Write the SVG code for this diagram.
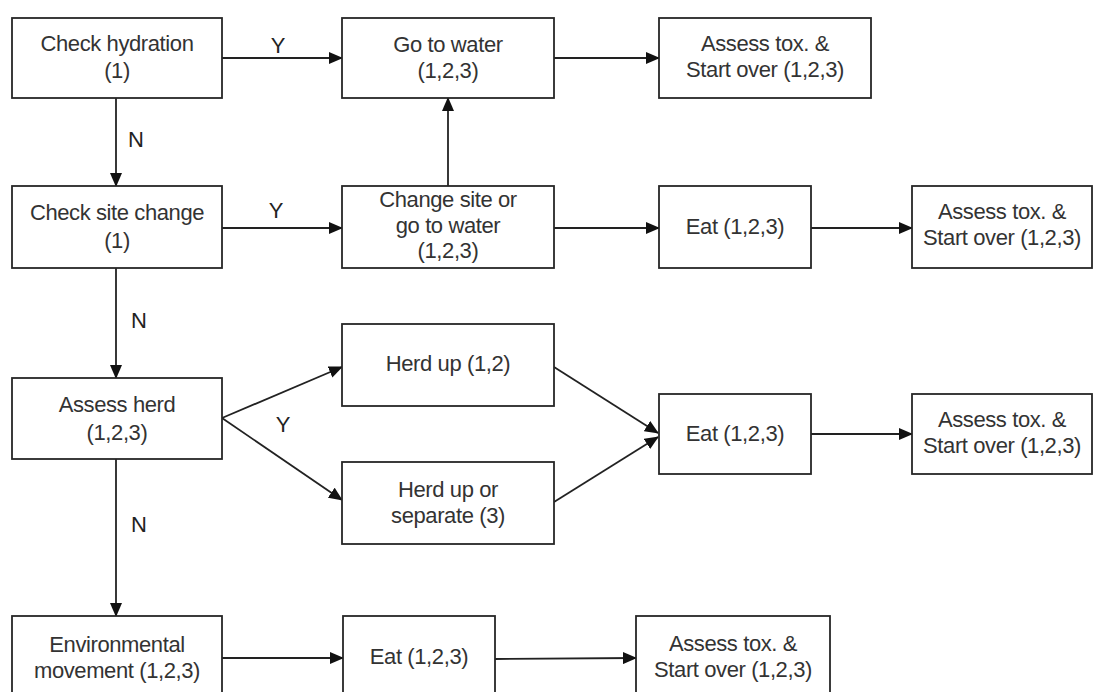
<svg xmlns="http://www.w3.org/2000/svg" width="1094" height="692" viewBox="0 0 1094 692">
  <style>
    .box { fill: #ffffff; stroke: #262626; stroke-width: 1.8; }
    .t { font-family: "Liberation Sans", Arial, sans-serif; font-size: 22px; fill: #333333; text-anchor: middle; letter-spacing: -0.4px; }
    .lbl { font-family: "Liberation Sans", Arial, sans-serif; font-size: 22px; fill: #222222; text-anchor: middle; }
    .c { fill: none; stroke: #222222; stroke-width: 1.8; marker-end: url(#ah); }
  </style>
  <defs>
    <marker id="ah" markerUnits="userSpaceOnUse" markerWidth="14" markerHeight="12" refX="13" refY="6" orient="auto">
      <path d="M0,0 L14,6 L0,12 z" fill="#111111"/>
    </marker>
  </defs>
  <rect x="0" y="0" width="1094" height="692" fill="#ffffff"/>

  <g id="connectors">
    <line class="c" x1="222" y1="58" x2="342" y2="58"/>
    <line class="c" x1="554" y1="58" x2="659" y2="58"/>
    <line class="c" x1="116" y1="98" x2="116" y2="186"/>
    <line class="c" x1="222" y1="228" x2="342" y2="228"/>
    <line class="c" x1="448" y1="186" x2="448" y2="98"/>
    <line class="c" x1="554" y1="228" x2="659" y2="228"/>
    <line class="c" x1="811" y1="228" x2="912" y2="228"/>
    <line class="c" x1="116" y1="268" x2="116" y2="378"/>
    <line class="c" x1="222" y1="418" x2="342" y2="367"/>
    <line class="c" x1="222" y1="418" x2="342" y2="500"/>
    <line class="c" x1="554" y1="367" x2="658" y2="433"/>
    <line class="c" x1="554" y1="502" x2="658" y2="437"/>
    <line class="c" x1="811" y1="434" x2="912" y2="434"/>
    <line class="c" x1="116" y1="459" x2="116" y2="616"/>
    <line class="c" x1="222" y1="658" x2="343" y2="658"/>
    <line class="c" x1="495" y1="659" x2="636" y2="658"/>
    <text class="lbl" x="278" y="53">Y</text>
    <text class="lbl" x="136" y="147">N</text>
    <text class="lbl" x="276" y="218">Y</text>
    <text class="lbl" x="139" y="328">N</text>
    <text class="lbl" x="283" y="432">Y</text>
    <text class="lbl" x="139" y="532">N</text>
  </g>

  <g id="check-hydration">
    <rect class="box" x="12" y="18" width="210" height="80"/>
    <text class="t" x="117" y="51">Check hydration</text>
    <text class="t" x="117" y="78">(1)</text>
  </g>
  <g id="go-to-water">
    <rect class="box" x="342" y="18" width="212" height="80"/>
    <text class="t" x="448" y="52">Go to water</text>
    <text class="t" x="448" y="78">(1,2,3)</text>
  </g>
  <g id="assess-tox-1">
    <rect class="box" x="659" y="18" width="212" height="80"/>
    <text class="t" x="765" y="51">Assess tox. &amp;</text>
    <text class="t" x="765" y="77">Start over (1,2,3)</text>
  </g>
  <g id="check-site-change">
    <rect class="box" x="12" y="186" width="210" height="82"/>
    <text class="t" x="117" y="220">Check site change</text>
    <text class="t" x="117" y="248">(1)</text>
  </g>
  <g id="change-site">
    <rect class="box" x="342" y="186" width="212" height="82"/>
    <text class="t" x="448" y="207">Change site or</text>
    <text class="t" x="448" y="233">go to water</text>
    <text class="t" x="448" y="258">(1,2,3)</text>
  </g>
  <g id="eat-1">
    <rect class="box" x="659" y="186" width="152" height="82"/>
    <text class="t" x="735" y="234">Eat (1,2,3)</text>
  </g>
  <g id="assess-tox-2">
    <rect class="box" x="912" y="186" width="180" height="82"/>
    <text class="t" x="1002" y="219">Assess tox. &amp;</text>
    <text class="t" x="1002" y="245">Start over (1,2,3)</text>
  </g>
  <g id="herd-up">
    <rect class="box" x="342" y="324" width="212" height="82"/>
    <text class="t" x="448" y="371">Herd up (1,2)</text>
  </g>
  <g id="assess-herd">
    <rect class="box" x="12" y="378" width="210" height="81"/>
    <text class="t" x="117" y="412">Assess herd</text>
    <text class="t" x="117" y="440">(1,2,3)</text>
  </g>
  <g id="eat-2">
    <rect class="box" x="659" y="394" width="152" height="80"/>
    <text class="t" x="735" y="441">Eat (1,2,3)</text>
  </g>
  <g id="assess-tox-3">
    <rect class="box" x="912" y="394" width="180" height="80"/>
    <text class="t" x="1002" y="427">Assess tox. &amp;</text>
    <text class="t" x="1002" y="453">Start over (1,2,3)</text>
  </g>
  <g id="herd-up-or-separate">
    <rect class="box" x="342" y="462" width="212" height="82"/>
    <text class="t" x="448" y="497">Herd up or</text>
    <text class="t" x="448" y="523">separate (3)</text>
  </g>
  <g id="environmental-movement">
    <rect class="box" x="12" y="616" width="210" height="90"/>
    <text class="t" x="117" y="652">Environmental</text>
    <text class="t" x="117" y="678">movement (1,2,3)</text>
  </g>
  <g id="eat-3">
    <rect class="box" x="343" y="616" width="152" height="90"/>
    <text class="t" x="419" y="664">Eat (1,2,3)</text>
  </g>
  <g id="assess-tox-4">
    <rect class="box" x="636" y="616" width="194" height="90"/>
    <text class="t" x="733" y="651">Assess tox. &amp;</text>
    <text class="t" x="733" y="677">Start over (1,2,3)</text>
  </g>
</svg>
